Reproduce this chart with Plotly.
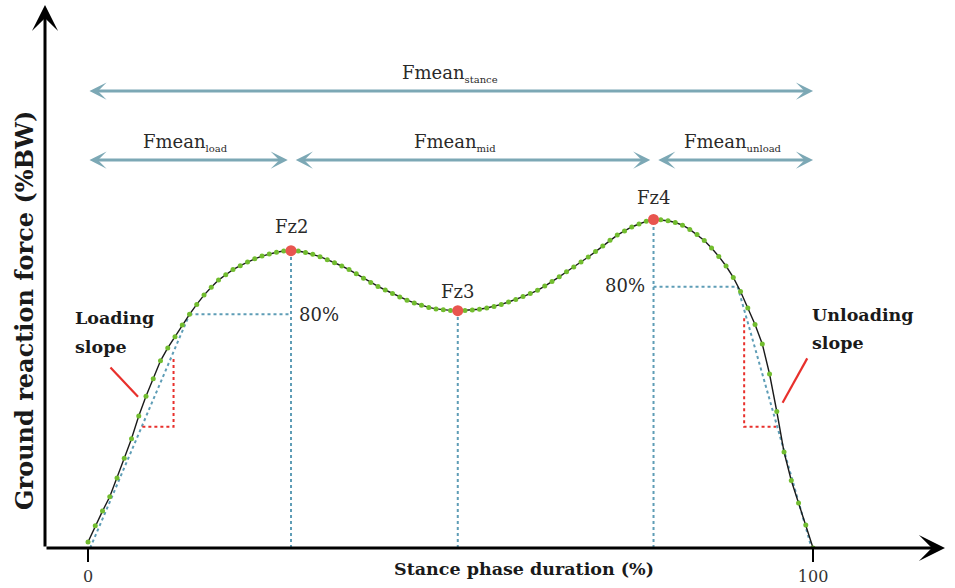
import plotly.graph_objects as go

# ---------------- data ----------------
stance_pct = list(range(0, 101))
grf = [2.0, 7.4, 12.3, 17.1, 23.3, 29.9, 36.4, 44.0, 50.6, 56.4,
       62.4, 66.7, 70.4, 74.3, 77.9, 81.2, 84.3, 86.9, 89.3, 91.1,
       92.8, 94.1, 95.3, 96.4, 97.3, 98.0, 98.6, 99.0, 99.1, 99.0,
       98.5, 97.9, 97.1, 96.1, 95.1, 94.0, 92.8, 91.4, 89.9, 88.5,
       87.2, 86.0, 84.8, 83.7, 82.6, 81.7, 80.9, 80.2, 79.7, 79.4,
       79.2, 79.1, 79.2, 79.3, 79.6, 80.0, 80.5, 81.2, 82.0, 82.8,
       83.8, 84.8, 85.9, 87.3, 88.8, 90.4, 92.1, 93.7, 95.3, 97.0,
       98.8, 100.7, 102.6, 104.3, 105.7, 107.0, 108.0, 108.9, 109.5, 109.4,
       109.1, 108.5, 107.6, 106.2, 104.5, 102.5, 100.0, 97.2, 94.0, 90.2,
       85.5, 80.0, 74.5, 68.0, 58.0, 45.5, 32.0, 22.5, 15.0, 7.7,
       0.0]

peak_labels = ["Fz2", "Fz3", "Fz4"]
peak_idx = [28, 51, 78]

load80_pt = (14.0, 77.9)      # 80% point on loading side
unload80_pt = (89.6, 87.1)    # 80% point on unloading side
load_start = (0.3, 0.0)
unload_end = (99.8, 0.0)

load_tri_x = [7.5, 11.8, 11.8]
load_tri_y = [40.4, 40.4, 63.2]
unload_tri_x = [90.5, 90.5, 94.9]
unload_tri_y = [76.6, 40.4, 40.4]

load_mark_x = [3.1, 6.9]
load_mark_y = [60.2, 50.4]
unload_mark_x = [99.2, 95.8]
unload_mark_y = [63.2, 48.4]

x_ticks = [0, 100]
x_ticktext = ["0", "100"]

# ---------------- styling ----------------
FONT = "DejaVu Serif"
BLUE_DOT = "#5e9db6"
TEAL = "#7ca8b5"
RED = "#e8302c"
GREEN = "#72bd2f"
PEAK_RED = "#e8554f"

X_RANGE = [-5.93, 118.2]
Y_RANGE = [0, 181]

fig = go.Figure()

def line(xs, ys, color, dash="dot", width=2):
    fig.add_trace(go.Scatter(x=xs, y=ys, mode="lines",
                             line=dict(color=color, width=width, dash=dash),
                             hoverinfo="skip", showlegend=False))

# vertical dotted lines from peaks
for i in peak_idx:
    line([stance_pct[i], stance_pct[i]], [0, grf[i]], BLUE_DOT)

# 80% horizontal lines
line([load80_pt[0], stance_pct[peak_idx[0]]], [load80_pt[1], load80_pt[1]], BLUE_DOT)
line([stance_pct[peak_idx[2]], unload80_pt[0]], [unload80_pt[1], unload80_pt[1]], BLUE_DOT)

# tangent (slope) lines
line([load_start[0], load80_pt[0]], [load_start[1], load80_pt[1]], BLUE_DOT)
line([unload80_pt[0], unload_end[0]], [unload80_pt[1], unload_end[1]], BLUE_DOT)

# red triangles
line(load_tri_x, load_tri_y, RED)
line(unload_tri_x, unload_tri_y, RED)

# red slope indicators
line(load_mark_x, load_mark_y, RED, dash="solid", width=2.2)
line(unload_mark_x, unload_mark_y, RED, dash="solid", width=2.2)

# curve
fig.add_trace(go.Scatter(x=stance_pct, y=grf, mode="lines",
                         line=dict(color="#1a1a1a", width=1.4),
                         hoverinfo="skip", showlegend=False))
fig.add_trace(go.Scatter(x=stance_pct, y=grf, mode="markers",
                         marker=dict(color=GREEN, size=5),
                         hoverinfo="skip", showlegend=False))
fig.add_trace(go.Scatter(x=[stance_pct[i] for i in peak_idx],
                         y=[grf[i] for i in peak_idx], mode="markers",
                         marker=dict(color=PEAK_RED, size=11),
                         hoverinfo="skip", showlegend=False))

annotations = []

def text(x, y, s, size=18, xanchor="center", bold=False, color="#2a2a2a"):
    annotations.append(dict(x=x, y=y, xref="x", yref="y", text=s, showarrow=False,
                            xanchor=xanchor, yanchor="middle",
                            font=dict(family=FONT, size=size, color=color,
                                      weight="bold" if bold else "normal")))

# peak labels
offsets = [8.0, 6.5, 7.3]
for lab, i, off in zip(peak_labels, peak_idx, offsets):
    text(stance_pct[i], grf[i] + off, lab)

# 80% labels
text(stance_pct[peak_idx[0]] + 0.8, load80_pt[1], "80%", xanchor="left")
text(stance_pct[peak_idx[2]] - 0.9, unload80_pt[1] + 0.5, "80%", xanchor="right")

# slope labels
text(-2.1, 76.7, "Loading", size=17.5, xanchor="left", bold=True, color="#1a1a1a")
text(-2.1, 67.0, "slope", size=17.5, xanchor="left", bold=True, color="#1a1a1a")
text(99.6, 77.7, "Unloading", size=17.5, xanchor="left", bold=True, color="#1a1a1a")
text(99.6, 68.3, "slope", size=17.5, xanchor="left", bold=True, color="#1a1a1a")

# Fmean arrows
stance_y = 152.3
seg_y = 129.3
gap = 0.45
segments = [
    (0, 100, stance_y, "stance", 49.9, 158.3),
    (0, stance_pct[peak_idx[0]] - gap, seg_y, "load", 13.4, 135.3),
    (stance_pct[peak_idx[0]] + gap, stance_pct[peak_idx[2]] - gap, seg_y, "mid", 50.6, 135.3),
    (stance_pct[peak_idx[2]] + gap, 100, seg_y, "unload", 89.0, 135.3),
]
for x0, x1, yy, sub, tx, ty in segments:
    annotations.append(dict(x=x1, y=yy, ax=x0, ay=yy, xref="x", yref="y",
                            axref="x", ayref="y", text="", showarrow=True,
                            arrowhead=3, startarrowhead=3, arrowside="end+start",
                            arrowwidth=3, arrowsize=0.95, startarrowsize=0.95,
                            arrowcolor=TEAL))
    text(tx, ty, "Fmean<sub><span style='font-size:10px'>%s</span></sub>" % sub, size=18)

# axes arrows
annotations.append(dict(x=X_RANGE[0], y=Y_RANGE[1], ax=X_RANGE[0], ay=Y_RANGE[0],
                        xref="x", yref="y", axref="x", ayref="y", text="",
                        showarrow=True, arrowhead=3, arrowwidth=3, arrowsize=1.45,
                        arrowcolor="black"))
annotations.append(dict(x=X_RANGE[1], y=Y_RANGE[0], ax=X_RANGE[0], ay=Y_RANGE[0],
                        xref="x", yref="y", axref="x", ayref="y", text="",
                        showarrow=True, arrowhead=3, arrowwidth=3, arrowsize=1.45,
                        arrowcolor="black"))

# axis titles
annotations.append(dict(x=(524 - 45) / 900, y=(548 - 569) / 543, xref="paper", yref="paper",
                        text="Stance phase duration (%)", showarrow=False,
                        xanchor="center", yanchor="middle",
                        font=dict(family=FONT, size=17.5, color="#1a1a1a", weight="bold")))
annotations.append(dict(x=(24 - 45) / 900, y=(548 - 311) / 543, xref="paper", yref="paper",
                        text="Ground reaction force (%BW)", showarrow=False, textangle=-90,
                        xanchor="center", yanchor="middle",
                        font=dict(family=FONT, size=24, color="#1a1a1a", weight="bold")))

fig.update_layout(
    width=955, height=588,
    margin=dict(l=45, r=10, t=5, b=40),
    paper_bgcolor="white", plot_bgcolor="white",
    showlegend=False,
    annotations=annotations,
    xaxis=dict(range=X_RANGE, tickvals=x_ticks, ticktext=x_ticktext,
               ticks="outside", ticklen=13, tickwidth=2, tickcolor="black",
               ticklabelstandoff=1, automargin=False,
               showgrid=False, zeroline=False, showline=False,
               tickfont=dict(family=FONT, size=16, color="#333")),
    yaxis=dict(range=Y_RANGE, visible=False, showgrid=False, zeroline=False,
               automargin=False),
)

fig.write_html("out.html")
